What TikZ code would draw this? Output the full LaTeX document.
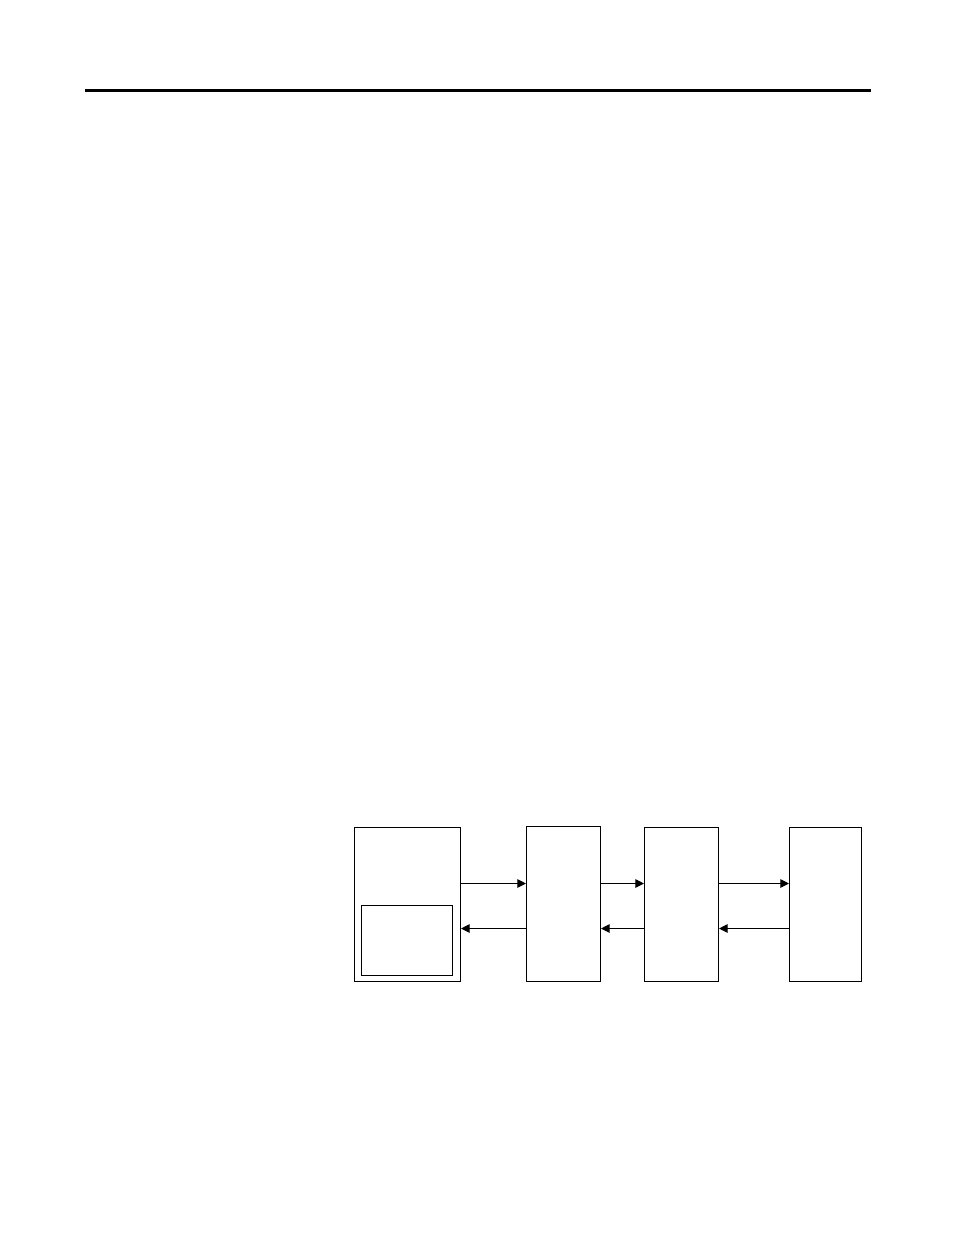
\documentclass[tikz,border=0pt]{standalone}
\usetikzlibrary{fit,arrows.meta}
\begin{document}
\begin{tikzpicture}[x=0.75pt,y=-0.75pt,
  blk/.style={draw=black,line width=0.8pt,inner sep=0pt,fill=none},
  conn/.style={line width=0.8pt,-{Triangle[length=6.5pt,width=6.5pt]}}]
\useasboundingbox[fill=white] (0,0) rectangle (954,1235);
\draw[line width=2pt] (85,90.5) -- (871,90.5);
\node[blk,fit={(354.5,827.5)(460.5,981.5)}] (b1) {};
\node[blk,fit={(361.5,905.5)(452.5,975.5)}] (b1in) {};
\node[blk,fit={(526.5,826.5)(600.5,981.5)}] (b2) {};
\node[blk,fit={(644.5,827.5)(718.5,981.5)}] (b3) {};
\node[blk,fit={(789.5,827.5)(861.5,981.5)}] (b4) {};
\coordinate (hi) at (0,883.5);
\coordinate (lo) at (0,928.5);
\draw[conn] (b1.east |- hi) -- (b2.west |- hi);
\draw[conn] (b2.west |- lo) -- (b1.east |- lo);
\draw[conn] (b2.east |- hi) -- (b3.west |- hi);
\draw[conn] (b3.west |- lo) -- (b2.east |- lo);
\draw[conn] (b3.east |- hi) -- (b4.west |- hi);
\draw[conn] (b4.west |- lo) -- (b3.east |- lo);
\end{tikzpicture}
\end{document}
